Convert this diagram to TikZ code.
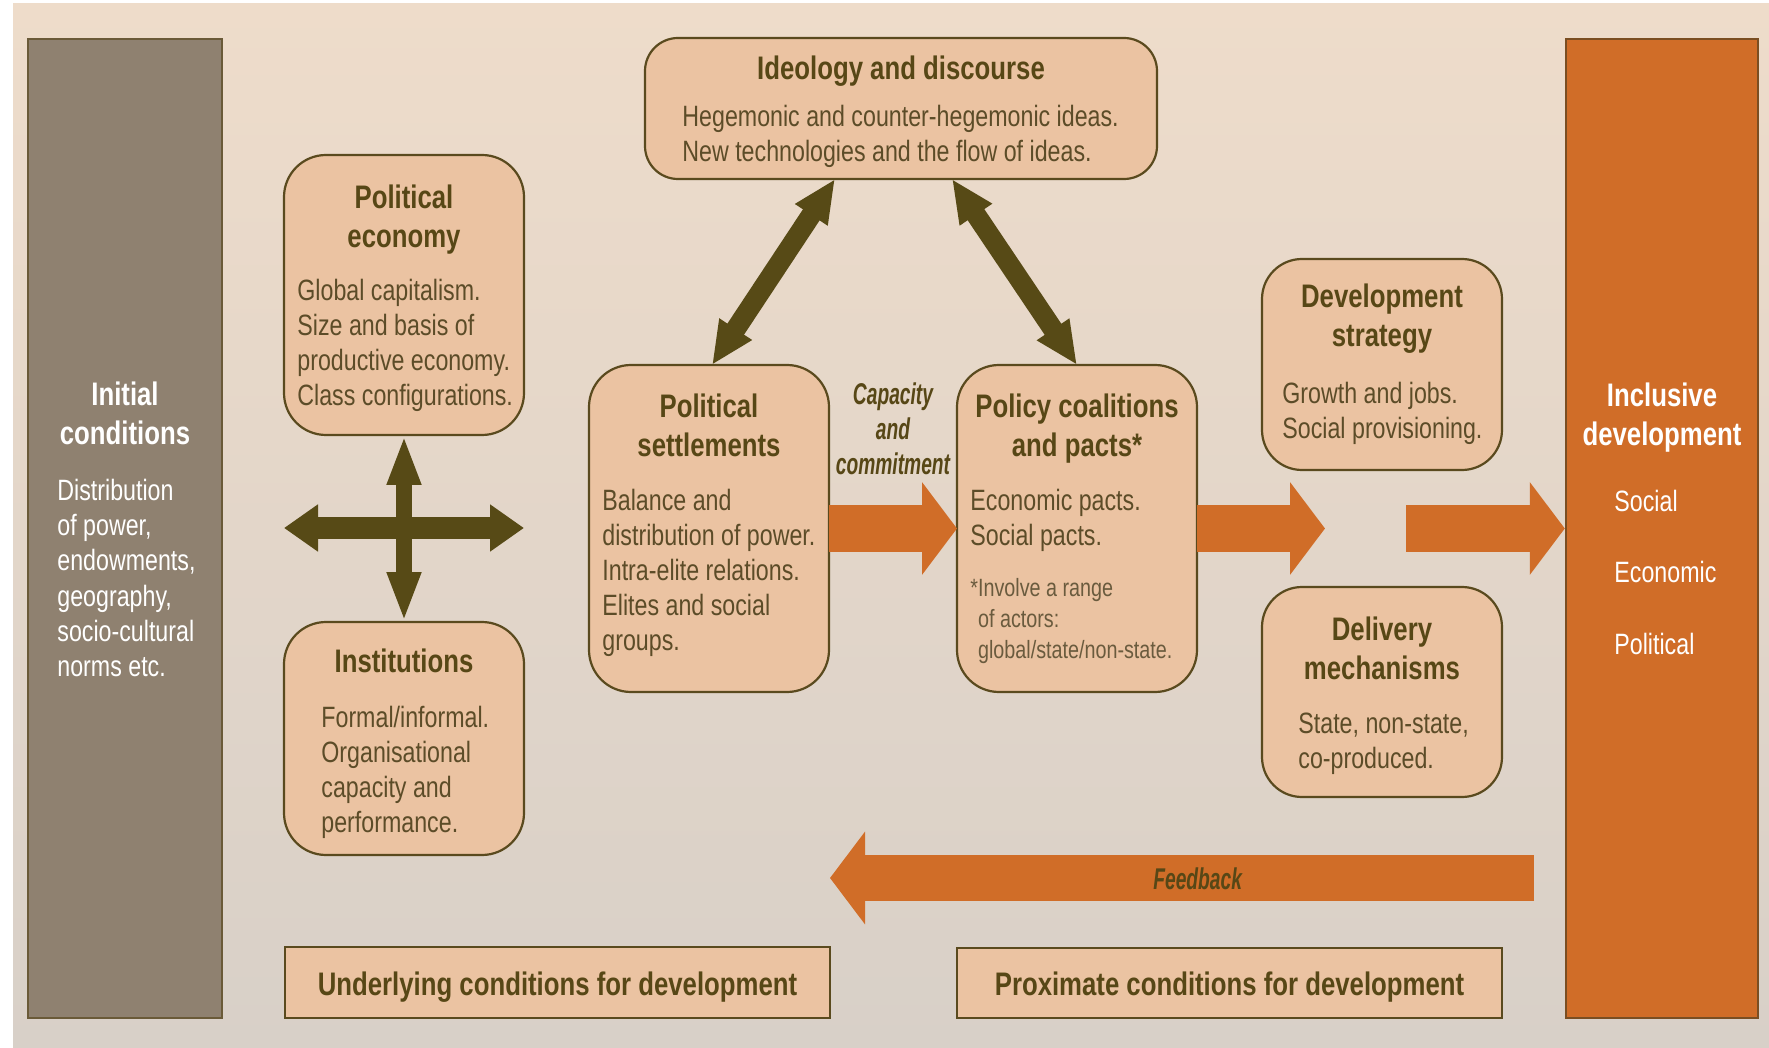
\documentclass[tikz,border=0pt]{standalone}
\usepackage{fontspec}
\setmainfont{Liberation Sans}[FakeStretch=0.79]
\newfontfamily\condfont{Liberation Sans}[FakeStretch=0.64]
\usetikzlibrary{arrows.meta,calc}
\definecolor{bgtop}{HTML}{EEDCCA}
\definecolor{bgbot}{HTML}{D8D0C8}
\definecolor{boxfill}{HTML}{EBC3A2}
\definecolor{edgec}{HTML}{5A4A1E}
\definecolor{txtc}{HTML}{574716}
\definecolor{bodyc}{HTML}{5C4C28}
\definecolor{notec}{HTML}{6A5B3E}
\definecolor{darkarr}{HTML}{574A16}
\definecolor{orangec}{HTML}{D06D28}
\definecolor{initfill}{HTML}{8F8170}
\definecolor{initedge}{HTML}{6A5A38}
\definecolor{incledge}{HTML}{7A4E22}
\newcommand{\myfl}{\rule{0pt}{15pt}}
\begin{document}
\begin{tikzpicture}[x=0.5pt,y=-0.5pt,
  box/.style={draw=edgec, line width=1.1pt, fill=boxfill, rounded corners=21pt, inner sep=0pt, outer sep=0pt},
  flatbox/.style={draw=edgec, line width=1.1pt, fill=boxfill, inner sep=0pt, outer sep=0pt},
  ttl/.style={font=\fontsize{16.3pt}{19.5pt}\selectfont\bfseries, text=txtc, align=center, inner sep=0pt, anchor=north},
  bdy/.style={font=\fontsize{14.7pt}{17.5pt}\selectfont, text=bodyc, align=left, inner sep=0pt, anchor=north west},
  note/.style={font=\fontsize{12.5pt}{15.5pt}\selectfont, text=notec, align=left, inner sep=0pt, anchor=north west},
  capt/.style={font=\condfont\fontsize{15pt}{17.5pt}\selectfont\bfseries\itshape, text=txtc, align=center, inner sep=0pt, anchor=north},
  wttl/.style={ttl, text=white},
  wbdy/.style={bdy, text=white},
  orarrow/.style={draw=orangec, line width=23pt, -{Triangle[length=17.5pt,width=45.5pt]}},
  diagarrow/.style={draw=darkarr, line width=10pt, {Triangle[length=21.5pt,width=18pt]}-{Triangle[length=21.5pt,width=18pt]}},
  vcross/.style={draw=darkarr, line width=8pt, {Triangle[length=25pt,width=15.5pt]}-{Triangle[length=25pt,width=15.5pt]}},
  hcross/.style={draw=darkarr, line width=11pt, {Triangle[length=17pt,width=22.5pt]}-{Triangle[length=17pt,width=22.5pt]}}
]
\useasboundingbox (0,0) rectangle (1769,1048);
\fill[white] (0,0) rectangle (1769,1048);
\shade[top color=bgtop, bottom color=bgbot] (13,4) rectangle (1769,1048);

% side columns
\node[draw=initedge, line width=1.2pt, fill=initfill, minimum width=97pt, minimum height=489.5pt, inner sep=0pt] (init) at (125,528.5) {};
\node[draw=incledge, line width=1.2pt, fill=orangec, minimum width=96pt, minimum height=489.5pt, inner sep=0pt] (incl) at (1662,528.5) {};

% boxes
\node[box, rounded corners=16.5pt, minimum width=256pt, minimum height=70.5pt] (ideo) at (901,108.5) {};
\node[box, minimum width=120pt, minimum height=140pt] (pe) at (404,295) {};
\node[box, minimum width=120pt, minimum height=116.5pt] (inst) at (404,738.5) {};
\node[box, minimum width=120pt, minimum height=163.5pt] (ps) at (709,528.5) {};
\node[box, minimum width=120pt, minimum height=163.5pt] (pc) at (1077,528.5) {};
\node[box, rounded corners=20pt, minimum width=120pt, minimum height=105.5pt] (dev) at (1382,364.5) {};
\node[box, rounded corners=20pt, minimum width=120pt, minimum height=105pt] (deliv) at (1382,692) {};
\node[flatbox, minimum width=272.5pt, minimum height=35.5pt] (under) at (557.5,982.5) {};
\node[flatbox, minimum width=272.5pt, minimum height=35pt] (prox) at (1229.5,983) {};

% free ends of connectors
\coordinate (cx) at (404,528);
\coordinate (gapA) at (1325,528.5);
\coordinate (gapB) at (1406,528.5);
\coordinate (fbR) at (1534,878);

% dark double arrows
\draw[diagarrow] ([xshift=95pt]ideo.south west) -- ([xshift=61.5pt]ps.north west);
\draw[diagarrow] ([xshift=153.5pt]ideo.south west) -- (pc.north);
\draw[vcross] (pe.south) -- (inst.north);
\draw[hcross] (pe.west |- cx) -- (pe.east |- cx);

% orange arrows
\draw[orarrow] (ps.east) -- (pc.west);
\draw[orarrow] (pc.east) -- (gapA);
\draw[orarrow] (gapB) -- (incl.west);
\draw[orarrow] (fbR) -- (under.north east |- fbR);

% texts (y = first baseline - 30)
\node[ttl] (ideoT) at (901,49) {\myfl Ideology and discourse};
\node[bdy] (ideoB) at (682,96) {\myfl Hegemonic and counter-hegemonic ideas.\\New technologies and the flow of ideas.};

\node[ttl] (peT) at (404,178) {\myfl Political\\economy};
\node[bdy] (peB) at (297,270) {\myfl Global capitalism.\\Size and basis of\\productive economy.\\Class configurations.};

\node[ttl] (instT) at (404,642) {\myfl Institutions};
\node[bdy] (instB) at (321,697) {\myfl Formal/informal.\\Organisational\\capacity and\\performance.};

\node[ttl] (psT) at (709,387) {\myfl Political\\settlements};
\node[bdy] (psB) at (602,480) {\myfl Balance and\\distribution of power.\\Intra-elite relations.\\Elites and social\\groups.};

\node[capt] (cap) at (893,374) {\myfl Capacity\\and\\commitment};

\node[ttl] (pcT) at (1077,387) {\myfl Policy coalitions\\and pacts*};
\node[bdy] (pcB) at (970,480) {\myfl Economic pacts.\\Social pacts.};
\node[note] (pcN) at (970,566) {\myfl *Involve a range\\\phantom{*}of actors:\\\phantom{*}global/state/non-state.};

\node[ttl] (devT) at (1382,277) {\myfl Development\\strategy};
\node[bdy] (devB) at (1282,373) {\myfl Growth and jobs.\\Social provisioning.};

\node[ttl] (delT) at (1382,610) {\myfl Delivery\\mechanisms};
\node[bdy] (delB) at (1298,703) {\myfl State, non-state,\\co-produced.};

\node[wttl] (initT) at (125,375) {\myfl Initial\\conditions};
\node[wbdy, font=\fontsize{14.7pt}{17.6pt}\selectfont] (initB) at (57,470) {\myfl Distribution\\of power,\\endowments,\\geography,\\socio-cultural\\norms etc.};

\node[wttl] (inclT) at (1662,376) {\myfl Inclusive\\development};
\node[wbdy] (inclS) at (1614,481) {\myfl Social};
\node[wbdy] (inclE) at (1614,552) {\myfl Economic};
\node[wbdy] (inclP) at (1614,624) {\myfl Political};

\node[capt, anchor=north west] (fbT) at (1153,859) {\myfl Feedback};

\node[ttl] (underT) at (557.5,965) {\myfl Underlying conditions for development};
\node[ttl] (proxT) at (1229.5,965) {\myfl Proximate conditions for development};
\end{tikzpicture}
\end{document}
